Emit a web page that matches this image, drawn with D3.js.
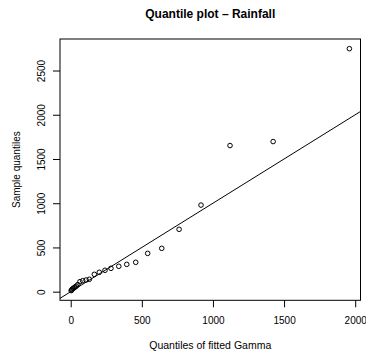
<!DOCTYPE html>
<html>
<head>
  <meta charset="utf-8">
  <title>Quantile plot - Rainfall</title>
  <script src="https://d3js.org/d3.v7.min.js"></script>
  <style>
    html, body {
      margin: 0;
      padding: 0;
      background: #fff;
      overflow: hidden;
    }
    text {
      font-family: "Liberation Sans", Arial, sans-serif;
      fill: #000;
    }
    .title {
      font-size: 12px;
      font-weight: bold;
    }
    .tick-label, .axis-title {
      font-size: 10px;
    }
  </style>
</head>
<body>
  <svg width="366" height="355"></svg>
  <script>
    // theoretical quantiles (fitted Gamma) and sample quantiles, sorted
    const theoretical = [3, 7, 12, 18, 25, 32, 40, 50, 65, 84, 108, 131, 166, 201, 241,
      283, 338, 394, 457, 541, 640, 762, 916, 1120, 1423, 1959];
    const sample = [12, 20, 30, 38, 45, 55, 64, 80, 113, 124, 132, 140, 196, 219, 242,
      264, 287, 309, 332, 433, 490, 705, 979, 1652, 1697, 2747];
    const xTicks = [0, 500, 1000, 1500, 2000];
    const yTicks = [0, 500, 1000, 1500, 2000, 2500];

    const plot = { left: 60, right: 360.5, top: 39, bottom: 300.3 };

    // R style: data range widened by 4% on each side
    function padded(vals) {
      const lo = d3.min(vals), hi = d3.max(vals);
      const p = (hi - lo) * 0.04;
      return [lo - p, hi + p];
    }

    const x = d3.scaleLinear().domain(padded(theoretical)).range([plot.left, plot.right]);
    const y = d3.scaleLinear().domain(padded(sample)).range([plot.bottom, plot.top]);

    const svg = d3.select("svg");

    svg.append("defs").append("clipPath").attr("id", "clip")
      .append("rect")
      .attr("x", plot.left).attr("y", plot.top)
      .attr("width", plot.right - plot.left).attr("height", plot.bottom - plot.top);

    // title
    svg.append("text")
      .attr("class", "title")
      .attr("x", (plot.left + plot.right) / 2)
      .attr("y", 18)
      .attr("text-anchor", "middle")
      .text("Quantile plot \u2013 Rainfall");

    // reference line y = x
    const xd = x.domain();
    svg.append("line")
      .attr("clip-path", "url(#clip)")
      .attr("x1", x(xd[0])).attr("y1", y(xd[0]))
      .attr("x2", x(xd[1])).attr("y2", y(xd[1]))
      .attr("stroke", "#000")
      .attr("stroke-width", 1);

    // points
    svg.append("g").selectAll("circle")
      .data(theoretical.map((t, i) => [t, sample[i]]))
      .enter()
      .append("circle")
      .attr("cx", d => x(d[0]))
      .attr("cy", d => y(d[1]))
      .attr("r", 2.3)
      .attr("fill", "none")
      .attr("stroke", "#000")
      .attr("stroke-width", 1);

    // box
    svg.append("rect")
      .attr("x", plot.left).attr("y", plot.top)
      .attr("width", plot.right - plot.left).attr("height", plot.bottom - plot.top)
      .attr("fill", "none")
      .attr("stroke", "#000")
      .attr("stroke-width", 1);

    // bottom axis
    const xAxis = svg.append("g").attr("transform", `translate(0,${plot.bottom})`)
      .call(d3.axisBottom(x).tickValues(xTicks).tickSize(7).tickPadding(10).tickFormat(d3.format("d")));
    xAxis.select(".domain").remove();
    xAxis.selectAll("text").attr("class", "tick-label")
      .style("font-size", "10px").style("font-family", "'Liberation Sans', Arial, sans-serif");

    // left axis, labels rotated like R
    const yAxis = svg.append("g").attr("transform", `translate(${plot.left},0)`)
      .call(d3.axisLeft(y).tickValues(yTicks).tickSize(7).tickFormat(d3.format("d")));
    yAxis.select(".domain").remove();
    yAxis.selectAll("text")
      .attr("x", null).attr("dy", null)
      .attr("transform", "translate(-15,0) rotate(-90)")
      .attr("text-anchor", "middle")
      .style("font-size", "10px").style("font-family", "'Liberation Sans', Arial, sans-serif");

    // axis titles
    svg.append("text")
      .attr("class", "axis-title")
      .attr("x", (plot.left + plot.right) / 2)
      .attr("y", 349)
      .attr("text-anchor", "middle")
      .style("font-size", "10.5px")
      .text("Quantiles of fitted Gamma");

    svg.append("text")
      .attr("class", "axis-title")
      .attr("transform", `translate(20,${(plot.top + plot.bottom) / 2}) rotate(-90)`)
      .attr("text-anchor", "middle")
      .text("Sample quantiles");
  </script>
</body>
</html>
